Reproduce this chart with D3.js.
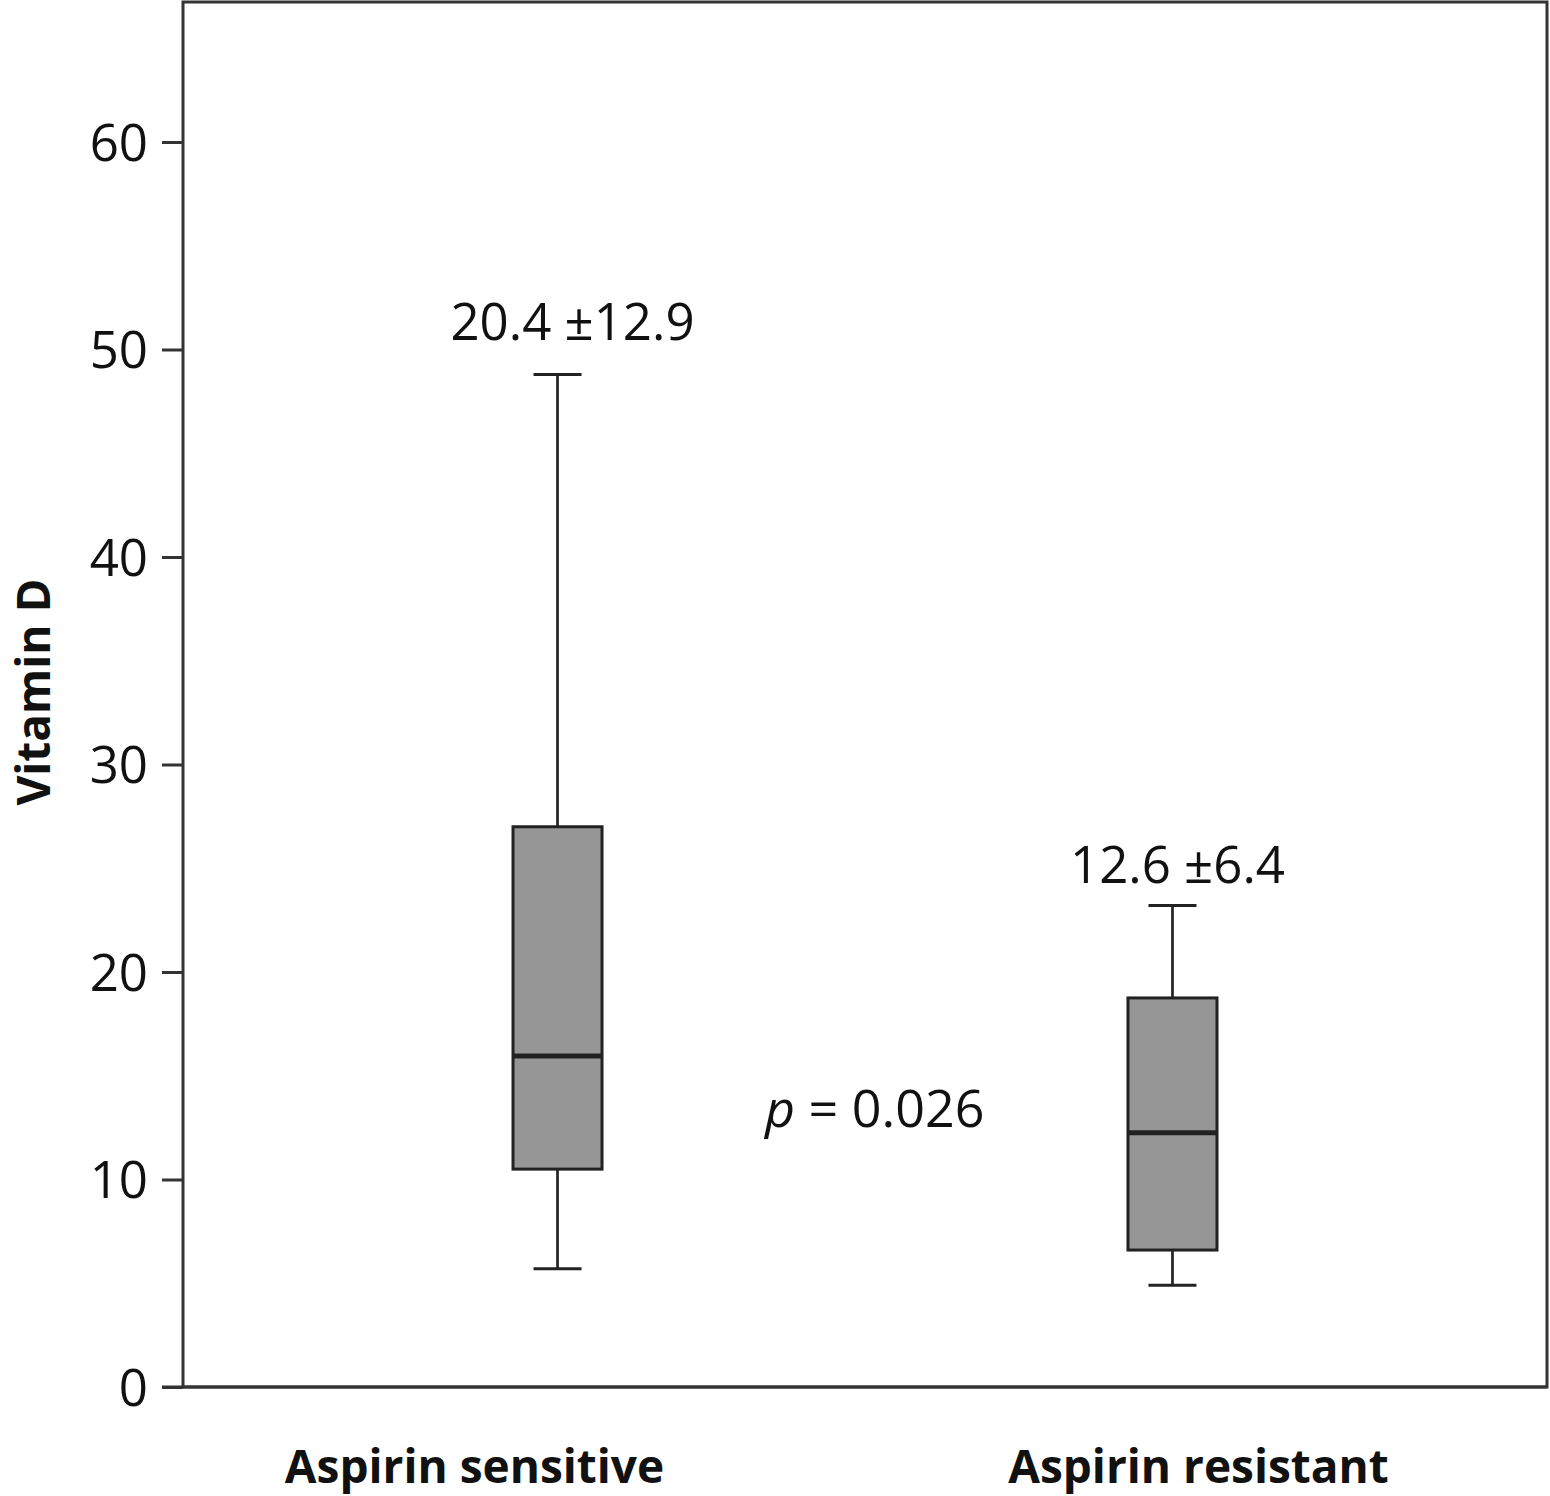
<!DOCTYPE html>
<html><head><meta charset="utf-8">
<script src="https://cdn.jsdelivr.net/npm/d3@7"></script>
<style>
html,body{margin:0;padding:0;background:#fff;}
text{font-family:"Open Sans","Noto Sans",sans-serif;fill:#111;}
</style></head>
<body>
<svg id="chart" width="1550" height="1496"></svg>
<script>
// ---- data ----
const categories = ["Aspirin sensitive", "Aspirin resistant"];
const whiskerLow  = [5.7, 4.9];
const q1          = [10.5, 6.6];
const median      = [15.95, 12.25];
const q3          = [27.0, 18.75];
const whiskerHigh = [48.8, 23.2];
const meanSdLabels = ["20.4 \u00B112.9", "12.6 \u00B16.4"];
const yTicks = [0, 10, 20, 30, 40, 50, 60];
const yTitle = "Vitamin D";
const pLabel = "0.026";

// ---- layout ----
const plotL = 183, plotR = 1547, plotT = 2, plotB = 1387;
const svg = d3.select("#chart");

const y = d3.scaleLinear().domain([0, 60]).range([plotB, 142]);
const x = d3.scalePoint().domain(categories).range([plotL, plotR]).padding(0.609);

const boxW = 89, capW = 48;
const ink = "#222";
const annShiftX = [15, 5];
const annGapY = [34, 23];

// frame
svg.append("rect").attr("x", plotL).attr("y", plotT)
  .attr("width", plotR - plotL).attr("height", plotB - plotT)
  .attr("fill", "none").attr("stroke", "#333").attr("stroke-width", 3);

// y axis
const yAxis = d3.axisLeft(y).tickValues(yTicks).tickSize(21).tickPadding(14)
  .tickFormat(d3.format("d"));
const ga = svg.append("g").attr("transform", `translate(${plotL},0)`).call(yAxis);
ga.select(".domain").remove();
ga.selectAll(".tick line").attr("stroke", "#333").attr("stroke-width", 3);
ga.selectAll(".tick text").attr("font-size", 51).attr("fill", "#111")
  .attr("font-family", '"Open Sans","Noto Sans",sans-serif').attr("dy", "0.36em");
svg.append("line").attr("x1", plotL - 21).attr("x2", plotR).attr("y1", plotB).attr("y2", plotB)
  .attr("stroke", "#333").attr("stroke-width", 3);

// boxes
const data = categories.map((c, i) => ({i, c, lo: whiskerLow[i], q1: q1[i], med: median[i], q3: q3[i], hi: whiskerHigh[i], lab: meanSdLabels[i]}));
const g = svg.append("g");
data.forEach(d => {
  const cx = x(d.c);
  g.append("line").attr("x1", cx).attr("x2", cx).attr("y1", y(d.hi)).attr("y2", y(d.q3))
    .attr("stroke", ink).attr("stroke-width", 2.7);
  g.append("line").attr("x1", cx).attr("x2", cx).attr("y1", y(d.q1)).attr("y2", y(d.lo))
    .attr("stroke", ink).attr("stroke-width", 2.7);
  g.append("line").attr("x1", cx - capW/2).attr("x2", cx + capW/2).attr("y1", y(d.hi)).attr("y2", y(d.hi))
    .attr("stroke", ink).attr("stroke-width", 3);
  g.append("line").attr("x1", cx - capW/2).attr("x2", cx + capW/2).attr("y1", y(d.lo)).attr("y2", y(d.lo))
    .attr("stroke", ink).attr("stroke-width", 3);
  g.append("rect").attr("x", cx - boxW/2).attr("y", y(d.q3))
    .attr("width", boxW).attr("height", y(d.q1) - y(d.q3))
    .attr("fill", "#969696").attr("stroke", ink).attr("stroke-width", 3);
  g.append("line").attr("x1", cx - boxW/2).attr("x2", cx + boxW/2).attr("y1", y(d.med)).attr("y2", y(d.med))
    .attr("stroke", ink).attr("stroke-width", 5);
  g.append("text").attr("x", cx + annShiftX[d.i]).attr("y", y(d.hi) - annGapY[d.i])
    .attr("text-anchor", "middle").attr("font-size", 51).text(d.lab);
});

// category labels
const labelShift = [-83, 26];
categories.forEach((c, i) => {
  svg.append("text").attr("x", x(c) + labelShift[i]).attr("y", 1483)
    .attr("text-anchor", "middle").attr("font-size", 46).attr("font-weight", 700).text(c);
});

// y title
svg.append("text").attr("transform", `translate(50,692) rotate(-90)`)
  .attr("text-anchor", "middle").attr("font-size", 46).attr("font-weight", 700).text(yTitle);

// p value
const pt = svg.append("text").attr("x", 765).attr("y", 1127).attr("font-size", 52);
pt.append("tspan").attr("font-style", "italic").text("p");
pt.append("tspan").text(" = " + pLabel);
</script>
</body></html>
